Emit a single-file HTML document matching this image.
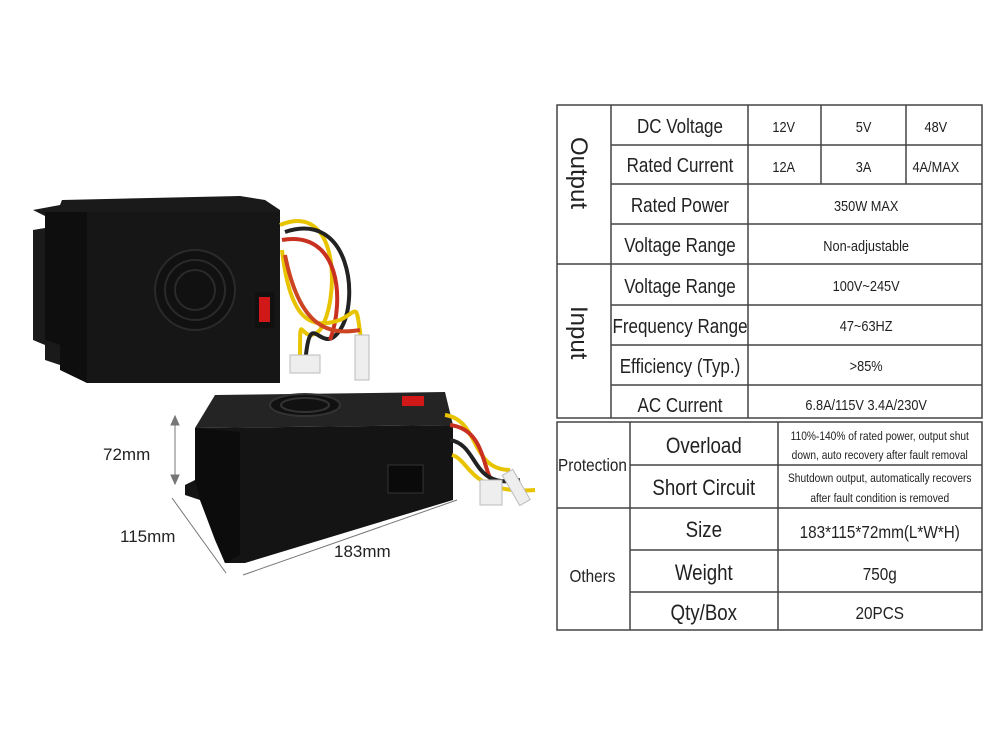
<!DOCTYPE html>
<html><head><meta charset="utf-8"><style>
body{margin:0;background:#fff;width:1000px;height:750px;overflow:hidden;font-family:"Liberation Sans",sans-serif}
svg{position:absolute;left:0;top:0}
text{font-family:"Liberation Sans",sans-serif;fill:#222}
</style></head><body>
<svg width="1000" height="750" viewBox="0 0 1000 750">
<!-- upper unit -->
<polygon points="33,210 60,205 62,200 240,196 265,200 280,210 280,383 87,383 75,375 60,365 45,360 45,345 33,340 33,230 45,228 45,216" fill="#1a1a1a"/>
<rect x="87" y="212" width="193" height="171" fill="#161616"/>
<polygon points="45,212 87,212 87,383 60,370 60,345 45,340" fill="#0e0e0e"/>
<circle cx="195" cy="290" r="40" fill="#111" stroke="#2a2a2a" stroke-width="2"/>
<circle cx="195" cy="290" r="30" fill="none" stroke="#2a2a2a" stroke-width="2"/>
<circle cx="195" cy="290" r="20" fill="none" stroke="#2a2a2a" stroke-width="2"/>
<rect x="255" y="292" width="20" height="36" fill="#111"/>
<rect x="259" y="297" width="11" height="25" fill="#d01818"/>
<!-- upper wires -->
<g fill="none" stroke-width="4">
<path d="M280,225 C340,200 340,300 320,330 C300,350 300,300 300,360" stroke="#e8c400"/>
<path d="M285,232 C350,210 360,300 340,330 C320,360 310,300 305,365" stroke="#222"/>
<path d="M282,240 C340,230 345,300 330,340" stroke="#c83020"/>
<path d="M282,250 C290,320 310,330 340,320 C360,310 355,300 362,345" stroke="#e8c400"/>
<path d="M285,255 C300,330 330,335 360,330" stroke="#cc4422"/>
</g>
<rect x="290" y="355" width="30" height="18" fill="#eee" stroke="#bbb"/>
<rect x="355" y="335" width="14" height="45" fill="#eee" stroke="#bbb"/>
<!-- lower unit -->
<polygon points="195,428 215,395 445,392 453,425" fill="#242424"/>
<polygon points="195,428 453,425 453,500 245,563 225,563 215,540 200,500 185,495 185,485 195,480" fill="#141414"/>
<polygon points="195,428 240,432 240,555 225,563 200,500 195,480" fill="#0c0c0c"/>
<ellipse cx="305" cy="405" rx="35" ry="11" fill="#111" stroke="#333" stroke-width="2"/>
<ellipse cx="305" cy="405" rx="24" ry="7" fill="none" stroke="#333" stroke-width="2"/>
<rect x="402" y="396" width="22" height="10" fill="#d01818"/>
<rect x="388" y="465" width="35" height="28" fill="#0a0a0a" stroke="#333"/>
<g fill="none" stroke-width="4">
<path d="M445,415 C480,420 470,470 510,470" stroke="#e8c400"/>
<path d="M450,425 C490,430 480,480 500,490" stroke="#c83020"/>
<path d="M450,440 C480,445 470,490 520,480" stroke="#222"/>
<path d="M452,455 C470,460 470,495 535,490" stroke="#e8c400"/>
</g>
<rect x="480" y="480" width="22" height="25" fill="#eee" stroke="#bbb"/>
<rect x="510" y="470" width="12" height="35" fill="#eee" stroke="#bbb" transform="rotate(-30 516 487)"/>
<!-- dimensions -->
<g stroke="#777" stroke-width="1" fill="#777">
<line x1="175" y1="420" x2="175" y2="480"/>
<polygon points="175,416 171,425 179,425"/><polygon points="175,484 171,475 179,475"/>
<line x1="172" y1="498" x2="226" y2="573"/>
<line x1="243" y1="575" x2="457" y2="500"/>
</g>
<text x="103" y="460" font-size="17">72mm</text>
<text x="120" y="542" font-size="17">115mm</text>
<text x="334" y="557" font-size="17">183mm</text>
<!-- upper table -->
<g stroke="#444" stroke-width="1.5" fill="none">
<rect x="557" y="105" width="425" height="313"/>
<line x1="557" y1="264" x2="611" y2="264"/>
<line x1="611" y1="105" x2="611" y2="418"/>
<line x1="748" y1="105" x2="748" y2="418"/>
<line x1="821" y1="105" x2="821" y2="184"/>
<line x1="906" y1="105" x2="906" y2="184"/>
<line x1="611" y1="145" x2="982" y2="145"/>
<line x1="611" y1="184" x2="982" y2="184"/>
<line x1="611" y1="224" x2="982" y2="224"/>
<line x1="611" y1="264" x2="982" y2="264"/>
<line x1="611" y1="305" x2="982" y2="305"/>
<line x1="611" y1="345" x2="982" y2="345"/>
<line x1="611" y1="385" x2="982" y2="385"/>
</g>
<g font-size="20" text-anchor="middle" transform="scale(0.85 1)">
<text x="800" y="133">DC Voltage</text>
<text x="800" y="172">Rated Current</text>
<text x="800" y="212">Rated Power</text>
<text x="800" y="252">Voltage Range</text>
<text x="800" y="293">Voltage Range</text>
<text x="800" y="333">Frequency Range</text>
<text x="800" y="373">Efficiency (Typ.)</text>
<text x="800" y="412">AC Current</text>
</g>
<g font-size="15" text-anchor="middle" transform="scale(0.85 1)">
<text x="922" y="132">12V</text><text x="1016" y="132">5V</text><text x="1101" y="132">48V</text>
<text x="922" y="172">12A</text><text x="1016" y="172">3A</text><text x="1101" y="172">4A/MAX</text>
<text x="1019" y="211">350W MAX</text>
<text x="1019" y="251">Non-adjustable</text>
<text x="1019" y="291">100V~245V</text>
<text x="1019" y="331">47~63HZ</text>
<text x="1019" y="371">&gt;85%</text>
<text x="1019" y="410">6.8A/115V  3.4A/230V</text>
</g>
<text font-size="24" transform="translate(571,137) rotate(90)">Output</text>
<text font-size="24" transform="translate(571,306) rotate(90)">Input</text>
<!-- lower table -->
<g stroke="#444" stroke-width="1.5" fill="none">
<rect x="557" y="422" width="425" height="208"/>
<line x1="630" y1="422" x2="630" y2="630"/>
<line x1="778" y1="422" x2="778" y2="630"/>
<line x1="630" y1="465" x2="982" y2="465"/>
<line x1="557" y1="508" x2="982" y2="508"/>
<line x1="630" y1="550" x2="982" y2="550"/>
<line x1="630" y1="592" x2="982" y2="592"/>
</g>
<g text-anchor="middle" transform="scale(0.85 1)">
<text x="828" y="453" font-size="22">Overload</text>
<text x="828" y="495" font-size="22">Short Circuit</text>
<text x="828" y="537" font-size="22">Size</text>
<text x="828" y="580" font-size="22">Weight</text>
<text x="828" y="620" font-size="22">Qty/Box</text>
<text x="1035" y="538" font-size="18">183*115*72mm(L*W*H)</text>
<text x="1035" y="580" font-size="18">750g</text>
<text x="1035" y="619" font-size="18">20PCS</text>
<text x="697" y="471" font-size="18">Protection</text>
<text x="697" y="582" font-size="18">Others</text>
</g>
<g text-anchor="middle" font-size="12" transform="scale(0.85 1)">
<text x="1035" y="440">110%-140% of rated power, output shut</text>
<text x="1035" y="459">down, auto recovery after fault removal</text>
<text x="1035" y="482">Shutdown output, automatically recovers</text>
<text x="1035" y="502">after fault condition is removed</text>
</g>
</svg>
</body></html>
